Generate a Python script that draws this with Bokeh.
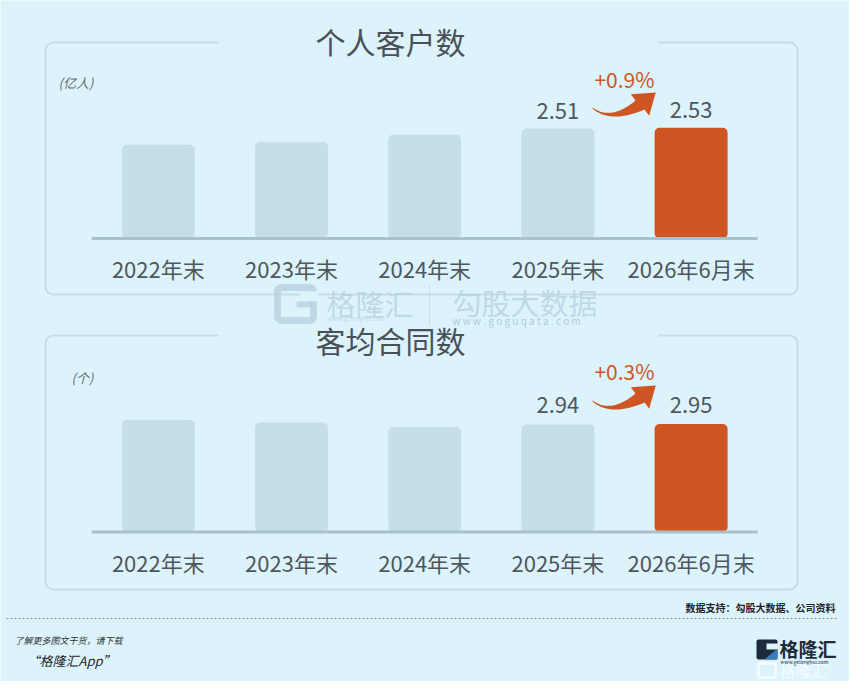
from bokeh.plotting import figure
from bokeh.models import Range1d
from bokeh.core.properties import value
from bokeh.embed import file_html
from bokeh.resources import INLINE

# ---------------- data ----------------
categories = ["2022年末", "2023年末", "2024年末", "2025年末", "2026年6月末"]
customers = [2.14, 2.21, 2.37, 2.51, 2.53]      # 个人客户数 (亿人)
contracts = [3.07, 2.99, 2.87, 2.94, 2.95]      # 客均合同数 (个)
labeled_idx = [3, 4]
growth_customers = "+0.9%"
growth_contracts = "+0.3%"
title_top = "个人客户数"
title_bottom = "客均合同数"
unit_top = "(亿人)"
unit_bottom = "(个)"
source_text = "数据支持：勾股大数据、公司资料"

# ---------------- style ----------------
W, H = 849, 681
BG = "#dcf3fc"
BAR = "#c6dee8"
ORANGE = "#cf5622"
TXT = "#4f575d"
BOX = "#c7dbe4"
BASE = "#a9c1cc"
WM = "#b4d0de"
FONT = value("Noto Sans CJK SC")

n = len(categories)
xs = list(range(n))
colors = [BAR] * (n - 1) + [ORANGE]

# category scale: first centre at 157.8px, 133.2px per category
unit = 133.2
c0 = 157.8
cat_range = Range1d(start=-c0 / unit, end=(W - c0) / unit)

# value scales (baseline pixel from bottom, px per unit)
k1, b1 = 43.8, H - 238
k2, b2 = 36.6, H - 531.5
y1 = Range1d(start=-b1 / k1, end=(H - b1) / k1)
y2 = Range1d(start=-b2 / k2, end=(H - b2) / k2)

p = figure(width=W, height=H, x_range=Range1d(0, W), y_range=Range1d(H, 0),
           output_backend="svg", toolbar_location=None, min_border=0,
           background_fill_color=BG, border_fill_color=BG, outline_line_color=None)
p.extra_x_ranges = {"cat": cat_range}
p.extra_y_ranges = {"y1": y1, "y2": y2}
p.axis.visible = False
p.grid.visible = False


def panel_frame(top, bottom, title, title_y):
    p.quad(left=[45], right=[797], top=[top], bottom=[bottom], fill_color=None,
           line_color=BOX, line_width=2, border_radius=8)
    p.quad(left=[218], right=[658], top=[top - 6], bottom=[top + 6],
           fill_color=BG, line_color=None)
    p.text(x=[390], y=[title_y], text=[title], text_font=FONT, text_font_size="30px",
           text_color="#4a5156", text_align="center", text_baseline="middle")


def qbez(p0, c, p1, m=24):
    pts = []
    for i in range(m + 1):
        t = i / m
        x = (1 - t) ** 2 * p0[0] + 2 * (1 - t) * t * c[0] + t ** 2 * p1[0]
        y = (1 - t) ** 2 * p0[1] + 2 * (1 - t) * t * c[1] + t ** 2 * p1[1]
        pts.append((x, y))
    return pts


def arrow(dy):
    upper = qbez((592, 107 + dy), (610.5, 120.5 + dy), (635, 100 + dy))
    lower = qbez((592, 108 + dy), (610, 123.5 + dy), (644, 109 + dy))
    head = [(630.3, 93.7 + dy), (655.3, 92 + dy), (648.7, 115.3 + dy)]
    pts = upper + head + lower[::-1]
    p.patch([q[0] for q in pts], [q[1] for q in pts], fill_color=ORANGE, line_color=None)


def panel(vals, yname, base_off, lab_off, growth, growth_y, unit_txt, unit_x, unit_y, dy):
    p.vbar(x=xs, top=vals, bottom=0, width=0.548, x_range_name="cat", y_range_name=yname,
           fill_color=colors, line_color=None, border_radius=5)
    p.line(x=[-0.5, n - 0.5], y=[0, 0], x_range_name="cat", y_range_name=yname,
           line_color=BASE, line_width=3)
    p.text(x=xs, y=[0] * n, text=categories, x_range_name="cat", y_range_name=yname,
           y_offset=base_off, text_font=FONT, text_font_size="22px", text_color=TXT,
           text_align="center", text_baseline="middle")
    p.text(x=labeled_idx, y=[vals[i] for i in labeled_idx],
           text=[f"{vals[i]:.2f}" for i in labeled_idx],
           x_range_name="cat", y_range_name=yname, y_offset=lab_off,
           text_font=FONT, text_font_size="22px", text_color=TXT,
           text_align="center", text_baseline="middle")
    p.text(x=[n - 1.5], y=[growth_y], text=[growth], x_range_name="cat",
           text_font=FONT, text_font_size="21px", text_color=ORANGE,
           text_align="center", text_baseline="middle")
    p.text(x=[unit_x], y=[unit_y], text=[unit_txt], text_font=FONT, text_font_size="13px",
           text_font_style="italic", text_color="#666b70", text_align="left",
           text_baseline="middle")
    arrow(dy)


panel_frame(42, 294, title_top, 40)
panel_frame(335, 589, title_bottom, 339)
panel(customers, "y1", 29, -18, growth_customers, 78, unit_top, 58, 82, 0)
panel(contracts, "y2", 30, -19, growth_contracts, 370, unit_bottom, 71, 377, 293)

# ---------------- watermark ----------------
p.quad(left=[277], right=[313], top=[287], bottom=[320], fill_color=None,
       line_color=WM, line_width=7, line_alpha=0.75, border_radius=4)
p.quad(left=[300], right=[318], top=[291], bottom=[301], fill_color=BG, line_color=None)
p.quad(left=[296], right=[313], top=[301], bottom=[307], fill_color=WM, fill_alpha=0.75,
       line_color=None)
p.text(x=[326], y=[302], text=["格隆汇"], text_font=FONT, text_font_size="29px",
       text_color=WM, text_alpha=0.75, text_align="left", text_baseline="middle")
p.text(x=[327], y=[318], text=["www.gelonghui.com"], text_font=FONT, text_font_size="6px",
       text_color=WM, text_alpha=0.75, text_align="left", text_baseline="middle")
p.line([429, 429], [285, 325], line_color=WM, line_alpha=0.6, line_width=1)
p.text(x=[452], y=[301], text=["勾股大数据"], text_font=FONT, text_font_size="29px",
       text_color=WM, text_alpha=0.75, text_align="left", text_baseline="middle")
p.text(x=[452], y=[320], text=["w w w . g o g u q a t a . c o m"], text_font=FONT,
       text_font_size="10px", text_color="#9dbfd0", text_alpha=0.8, text_align="left",
       text_baseline="middle")

# ---------------- footer ----------------
p.text(x=[835], y=[607], text=[source_text], text_font=FONT, text_font_size="10px",
       text_font_style="bold", text_color="#222222", text_align="right", text_baseline="middle")
p.line([6, 836], [618, 618], line_color="#8a8f93", line_width=1, line_dash="2 2")
p.text(x=[14], y=[640], text=["了解更多图文干货，请下载"], text_font=FONT,
       text_font_size="9px", text_font_style="italic", text_color="#333333",
       text_align="left", text_baseline="middle")
p.text(x=[26], y=[660], text=["“格隆汇App”"], text_font=FONT, text_font_size="13px",
       text_font_style="italic", text_color="#222222", text_align="left",
       text_baseline="middle")
# logo
p.quad(left=[756], right=[777], top=[639], bottom=[659], fill_color="#1d2b3c",
       line_color=None, border_radius=2)
p.quad(left=[766], right=[778], top=[643], bottom=[649], fill_color=BG, line_color=None)
p.patch([764, 777, 777], [659, 648, 659], fill_color="#3c7dc2", line_color=None)
p.text(x=[779], y=[648], text=["格隆汇"], text_font=FONT, text_font_size="19px",
       text_font_style="bold", text_color="#1d2b3c", text_align="left", text_baseline="middle")
p.text(x=[780], y=[661], text=["www.gelonghui.com"], text_font=FONT, text_font_size="5px",
       text_color="#1d2b3c", text_align="left", text_baseline="middle")
p.quad(left=[758], right=[775], top=[663], bottom=[677], fill_color=None,
       line_color="#f2fafd", line_width=3)
p.text(x=[779], y=[669], text=["格隆汇"], text_font=FONT, text_font_size="16px",
       text_color="#f4fbfe", text_align="left", text_baseline="middle")

open("out.html", "w").write(file_html(p, INLINE))
